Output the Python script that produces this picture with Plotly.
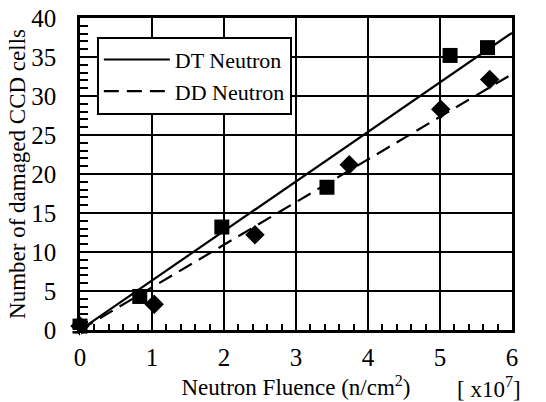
import plotly.graph_objects as go

# Data
dt_x = [0.0, 0.83, 1.97, 3.43, 5.14, 5.66]
dt_y = [0.5, 4.3, 13.2, 18.3, 35.2, 36.2]
dd_x = [0.0, 1.03, 2.43, 3.74, 5.01, 5.69]
dd_y = [0.5, 3.3, 12.2, 21.2, 28.3, 32.1]
fit_x = [0.0, 6.0]
dt_fit = [0.0, 38.1]
dd_fit = [0.0, 32.8]
x_range = [0, 6]
y_range = [0, 40]

font_family = "Liberation Serif, Times New Roman, serif"

fig = go.Figure()
fig.add_trace(go.Scatter(x=fit_x, y=dt_fit, mode="lines", name="DT Neutron",
                         line=dict(color="black", width=2.2)))
fig.add_trace(go.Scatter(x=fit_x, y=dd_fit, mode="lines", name="DD Neutron",
                         line=dict(color="black", width=2.2, dash="15px,8px")))
fig.add_trace(go.Scatter(x=dt_x, y=dt_y, mode="markers", showlegend=False,
                         marker=dict(symbol="square", size=15, color="black"),
                         cliponaxis=False))
fig.add_trace(go.Scatter(x=dd_x, y=dd_y, mode="markers", showlegend=False,
                         marker=dict(symbol="diamond", size=15, color="black"),
                         cliponaxis=False))
# invisible trace so the minor-tick overlay axes are drawn
fig.add_trace(go.Scatter(x=dt_x, y=dt_y, mode="markers", showlegend=False,
                         marker=dict(opacity=0), hoverinfo="skip",
                         xaxis="x2", yaxis="y2"))

axis_common = dict(showline=True, mirror=True, linecolor="black", linewidth=2.5,
                   showgrid=True, gridcolor="black", gridwidth=1.5,
                   zeroline=False, automargin=False,
                   tickfont=dict(family=font_family, size=25, color="black"))

fig.update_layout(
    xaxis=dict(range=x_range, dtick=1, tick0=0,
               ticks="outside", ticklen=3, tickcolor="white",
               title=dict(text="Neutron Fluence (n/cm<sup>2</sup>)",
                          font=dict(family=font_family, size=23, color="black"),
                          standoff=10),
               **axis_common),
    yaxis=dict(range=y_range, dtick=5, tick0=0,
               ticks="outside", ticklen=16, tickcolor="white",
               title=dict(text="Number of damaged CCD cells",
                          font=dict(family=font_family, size=23, color="black"),
                          standoff=0),
               **axis_common),
    xaxis2=dict(range=x_range, overlaying="x", anchor="y", side="bottom",
                dtick=0.2, tick0=0, ticks="inside", ticklen=6, tickwidth=1.5,
                tickcolor="black", showticklabels=False, showgrid=False,
                showline=False, zeroline=False, automargin=False),
    yaxis2=dict(range=y_range, overlaying="y", anchor="x", side="left",
                dtick=1, tick0=0, ticks="inside", ticklen=8, tickwidth=1.5,
                tickcolor="black", showticklabels=False, showgrid=False,
                showline=False, zeroline=False, automargin=False),
)

fig.add_annotation(text="[ x10<sup>7</sup>]", xref="paper", yref="paper",
                   x=1.025, y=-0.183, xanchor="right", yanchor="middle",
                   showarrow=False,
                   font=dict(family=font_family, size=23, color="black"))

fig.update_layout(
    width=546, height=402,
    margin=dict(l=80, r=34, t=18, b=72),
    paper_bgcolor="white", plot_bgcolor="white",
    showlegend=True,
    legend=dict(x=0.039, y=0.94, xanchor="left", yanchor="top",
                bgcolor="white", bordercolor="black", borderwidth=2,
                font=dict(family=font_family, size=22, color="black"),
                tracegroupgap=0, itemwidth=66),
)

fig.write_html("out.html", config={"displayModeBar": False},
               post_script="document.body.style.margin='0';")
